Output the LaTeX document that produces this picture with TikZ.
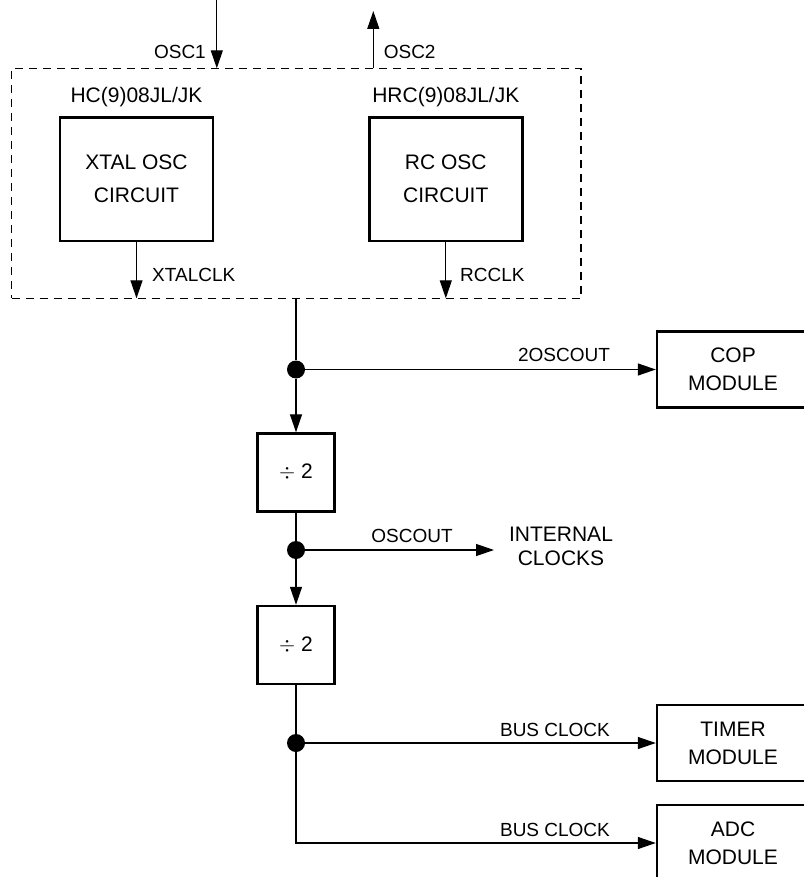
\documentclass[tikz,border=0pt]{standalone}
\usepackage{fontspec}
\setmainfont{Liberation Sans}
\usepackage{tikz}
\usetikzlibrary{arrows.meta,positioning}
\tikzstyle{block} = [rectangle, draw, line width=2.4pt, text centered, align=center, inner sep=0pt]
\tikzstyle{oscblock} = [block, minimum width=153pt, minimum height=123pt, font=\fontsize{21}{33}\selectfont]
\tikzstyle{divblock} = [block, minimum width=77pt, minimum height=78pt, font=\fontsize{21}{25}\selectfont]
\tikzstyle{modblock} = [block, minimum width=152pt, minimum height=76pt, font=\fontsize{21}{28}\selectfont]
\tikzstyle{line} = [draw, line width=1.3pt, -{Triangle[length=18pt,width=12pt]}]
\tikzstyle{wire} = [draw, line width=1.3pt]
\tikzstyle{lbl} = [font=\fontsize{19}{22}\selectfont, inner sep=0pt]
\tikzstyle{title} = [font=\fontsize{21}{24}\selectfont, inner sep=0pt]
\tikzstyle{junction} = [circle, fill, inner sep=0pt, minimum size=18pt]

\begin{document}
\begin{tikzpicture}[x=1pt, y=-1pt]
    \useasboundingbox (0,0) rectangle (803,877);

    % dashed outline around both oscillators
    \node [draw, dash pattern=on 8pt off 6pt, line width=1.2pt, minimum width=569.5pt, minimum height=230pt, inner sep=0pt] (chip) at (296.25,183.3) {};

    \node [title] (hc) at (136.5,96.7) {HC(9)08JL/JK};
    \node [title] (hrc) at (445.8,96.7) {HRC(9)08JL/JK};
    \node [oscblock] (xtal) at (136.5,179.2) {XTAL OSC\\CIRCUIT};
    \node [oscblock] (rc) at (445.8,179.2) {RC OSC\\CIRCUIT};

    \coordinate (osc1in) at (216.8,0);
    \coordinate (osc1) at (216.8,68.3);
    \coordinate (osc2in) at (373.3,68.3);
    \coordinate (osc2) at (373.3,11);
    \coordinate (xtalout) at (136.5,298.3);
    \coordinate (rcout) at (445.8,298.3);
    \coordinate (clkin) at (296,298.3);

    \node [lbl, anchor=east] (osc1lbl) at (206,51.7) {OSC1};
    \node [lbl, anchor=west] (osc2lbl) at (383.6,51.7) {OSC2};
    \node [lbl, anchor=west] (xtalclk) at (152,275) {XTALCLK};
    \node [lbl, anchor=west] (rcclk) at (460,275) {RCCLK};

    % divider chain
    \node [junction] (j1) at (296,369.5) {};
    \node [divblock] (div1) at (296,472.5) {$\div$ 2};
    \node [junction] (j2) at (296,550) {};
    \node [divblock] (div2) at (296,645) {$\div$ 2};
    \node [junction] (j3) at (296,743) {};
    \coordinate (busturn) at (296,843);

    \node [modblock] (cop) at (733,369.5) {COP\\MODULE};
    \node [modblock] (timer) at (733,743) {TIMER\\MODULE};
    \node [modblock] (adc) at (733,843) {ADC\\MODULE};
    \node [font=\fontsize{21}{24}\selectfont, align=center, inner sep=0pt] (internal) at (561,546) {INTERNAL\\CLOCKS};
    \coordinate (intin) at (494,550);

    \node [lbl] (twoosc) at (564,355) {2OSCOUT};
    \node [lbl] (oscout) at (412,536) {OSCOUT};
    \node [lbl] (bus1) at (555,730) {BUS CLOCK};
    \node [lbl] (bus2) at (555,829.5) {BUS CLOCK};

    \path [line] (osc1in) -- (osc1);
    \path [line] (osc2in) -- (osc2);
    \path [line] (xtal) -- (xtalout);
    \path [line] (rc) -- (rcout);
    \path [wire] (clkin) -- (j1);
    \path [line] (j1) -- (cop.west);
    \path [line] (j1) -- (div1.north);
    \path [wire] (div1) -- (j2);
    \path [line] (j2) -- (intin);
    \path [line] (j2) -- (div2.north);
    \path [wire] (div2) -- (j3);
    \path [line] (j3) -- (timer.west);
    \path [line] (j3) -- (busturn) -- (adc.west);
\end{tikzpicture}
\end{document}
